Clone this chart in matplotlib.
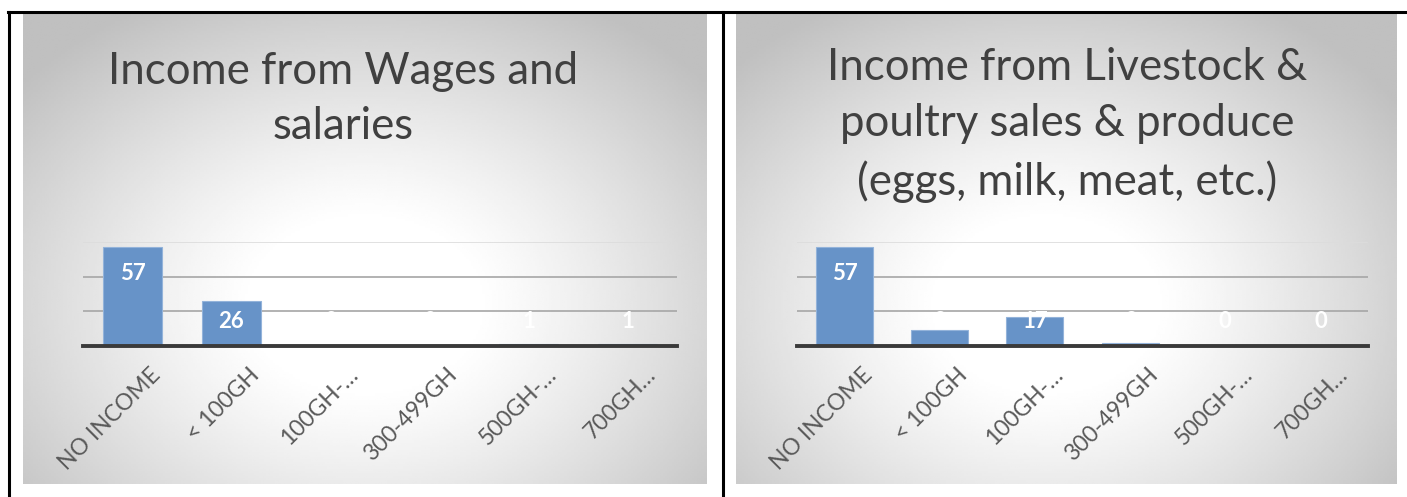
import numpy as np
import matplotlib.pyplot as plt
from matplotlib.lines import Line2D
from matplotlib.transforms import ScaledTranslation

categories = ["NO INCOME", "< 100GH", "100GH-\u2026", "300-499GH", "500GH-\u2026", "700GH\u2026"]
wages_counts = [57, 26, 0, 0, 1, 1]
livestock_counts = [57, 9, 17, 2, 0, 0]
wages_title = "Income from Wages and\nsalaries"
livestock_title = "Income from Livestock &\npoultry sales & produce\n(eggs, milk, meat, etc.)"

W, H = 1407, 497
FONT = "Lato"


def fig_rect(x0, y0, x1, y1):
    # pixel box (top-left origin) -> figure fraction rect
    return [x0 / W, 1 - y1 / H, (x1 - x0) / W, (y1 - y0) / H]


def gradient_panel(fig, box, cx, cy):
    ax = fig.add_axes(fig_rect(*box))
    ny, nx = 200, 300
    xx, yy = np.meshgrid(np.linspace(0, 1, nx), np.linspace(0, 1, ny))
    r = np.sqrt(((xx - cx) / 0.68) ** 2 + ((yy - cy) / 0.75) ** 2)
    t = np.clip((r - 0.24) / 0.74, 0, 1) ** 1.15
    shade = 1.0 - 0.25 * t
    ax.imshow(shade, cmap="gray", vmin=0, vmax=1, aspect="auto",
              extent=[0, 1, 1, 0], interpolation="bilinear")
    ax.set_axis_off()
    return ax


def bar_chart(fig, box, counts):
    ax = fig.add_axes(fig_rect(*box))
    ax.patch.set_alpha(0)
    x = np.arange(len(categories))
    ax.bar(x, counts, width=0.6, color="#6793c8", edgecolor="#93b3da",
           linewidth=0.8, zorder=2)
    ax.set_xlim(-0.5, len(categories) - 0.5)
    ax.set_ylim(0, 60)
    ax.set_yticks([0, 20, 40, 60])
    ax.set_yticklabels([])
    ax.tick_params(axis="y", length=0)
    ax.grid(axis="y", color="#a6a6a6", linewidth=1.2, zorder=1)
    ax.yaxis.get_gridlines()[-1].set_color("#dcdcdc")
    for s in ["top", "left", "right"]:
        ax.spines[s].set_visible(False)
    ax.spines["bottom"].set_color("#3a3a3a")
    ax.spines["bottom"].set_linewidth(2.8)
    ax.spines["bottom"].set_zorder(3)
    ax.set_xticks(x)
    ax.set_xticklabels(categories, rotation=45, ha="right",
                       rotation_mode="anchor", fontsize=16.5,
                       family=FONT, color="#595959")
    ax.tick_params(axis="x", length=0, pad=13)
    offset = ScaledTranslation(0.17, 0, fig.dpi_scale_trans)
    for lab in ax.get_xticklabels():
        lab.set_transform(lab.get_transform() + offset)
    for xi, v in zip(x, counts):
        ax.text(xi, max(v - 15, 14.2), str(v), ha="center", va="center",
                color="white", fontsize=16, fontweight="bold", family=FONT,
                zorder=4)
    return ax


fig = plt.figure(figsize=(W / 100, H / 100), dpi=100)

gradient_panel(fig, (23, 13, 707, 484), 0.5, 0.62)
gradient_panel(fig, (736, 13, 1397, 484), 0.47, 0.62)

bar_chart(fig, (83, 242, 677, 346), wages_counts)
bar_chart(fig, (797, 242, 1368, 346), livestock_counts)

fig.text(343 / W, 1 - 99 / H, wages_title, ha="center", va="center",
         fontsize=31.5, family=FONT, color="#404040", linespacing=1.45)
fig.text(1067 / W, 1 - 125 / H, livestock_title, ha="center", va="center",
         fontsize=31.5, family=FONT, color="#404040", linespacing=1.45)

# table borders around the two charts
for xs, ys in [((8, W), (12, 12)), ((9, 9), (12, H)), ((723, 723), (12, H))]:
    fig.add_artist(Line2D([x / W for x in xs], [1 - y / H for y in ys],
                          color="black", linewidth=2.2))

fig.savefig("out.png", dpi=100)
